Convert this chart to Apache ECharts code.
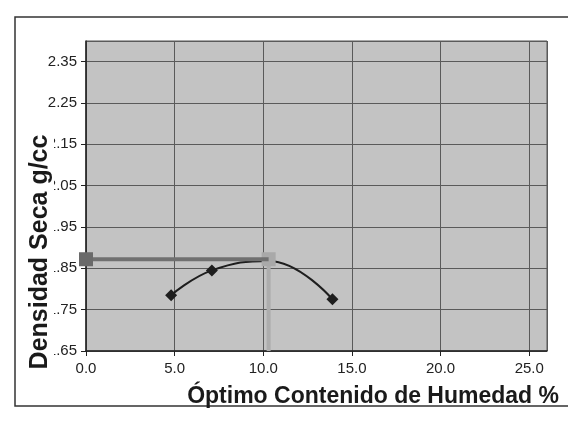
<!DOCTYPE html>
<html>
<head>
<meta charset="utf-8">
<style>
  html, body { margin: 0; padding: 0; background: #ffffff; }
  #chart { width: 568px; height: 421px; }
</style>
<script src="https://cdn.jsdelivr.net/npm/echarts@6/dist/echarts.min.js"></script>
</head>
<body>
<div id="chart"></div>
<script>
// Proctor compaction curve: moisture content (%) vs dry density (g/cc)
const moisture = [4.8, 7.1, 10.3, 13.9];
const dryDensity = [1.785, 1.845, 1.868, 1.775];

// Maximum dry density and optimum moisture content
const optMoisture = 10.3;
const maxDensity = 1.872;

const xTicks = [0, 5, 10, 15, 20, 25];
const yTicks = [1.65, 1.75, 1.85, 1.95, 2.05, 2.15, 2.25, 2.35];

const yTitle = 'Densidad Seca g/cc';
const xTitle = 'Óptimo Contenido de Humedad %';

const FONT = '"Liberation Sans", Arial, sans-serif';

const curveData = moisture.map((m, i) => [m, dryDensity[i]]);
const maxLine = [[0, maxDensity], [optMoisture, maxDensity]];
const dropLine = [[optMoisture, maxDensity], [optMoisture, yTicks[0]]];

const chart = echarts.init(document.getElementById('chart'), null, { renderer: 'canvas' });

chart.setOption({
  animation: false,
  backgroundColor: '#ffffff',
  grid: {
    left: 86, right: 21, top: 41, bottom: 70,
    show: true,
    backgroundColor: '#c3c3c3',
    borderColor: '#555555',
    borderWidth: 1
  },
  xAxis: {
    type: 'value',
    min: 0, max: 26, interval: 5,
    axisLine: { show: true, onZero: false, lineStyle: { color: '#222222', width: 1.5 } },
    axisTick: { show: true, inside: false, length: 5, lineStyle: { color: '#222222' } },
    axisLabel: {
      margin: 10, color: '#222222', fontFamily: FONT, fontSize: 15,
      showMaxLabel: false,
      formatter: v => (xTicks.indexOf(v) >= 0 ? v.toFixed(1) : '')
    },
    splitLine: { show: true, lineStyle: { color: '#5a5a5a', width: 1 } }
  },
  yAxis: {
    type: 'value',
    min: yTicks[0], max: 2.40, interval: 0.1,
    axisLine: { show: true, onZero: false, lineStyle: { color: '#222222', width: 1.5 } },
    axisTick: { show: true, inside: false, length: 5, lineStyle: { color: '#222222' } },
    axisLabel: {
      margin: 9, color: '#222222', fontFamily: FONT, fontSize: 15,
      showMaxLabel: false,
      formatter: v => v.toFixed(2)
    },
    splitLine: { show: true, lineStyle: { color: '#5a5a5a', width: 1 } }
  },
  series: [
    {
      name: 'Curva de compactación',
      type: 'line',
      data: curveData,
      smooth: 0.45,
      clip: false,
      symbol: 'diamond',
      symbolSize: 12,
      lineStyle: { color: '#1e1e1e', width: 2 },
      itemStyle: { color: '#1e1e1e' },
      z: 3
    },
    {
      name: 'Caída',
      type: 'line',
      data: dropLine,
      clip: false,
      symbol: (v, p) => (p.dataIndex === 0 ? 'rect' : 'none'),
      symbolSize: 14,
      lineStyle: { color: '#adadad', width: 4 },
      itemStyle: { color: '#a9a9a9' },
      z: 4
    },
    {
      name: 'Densidad máxima',
      type: 'line',
      data: maxLine,
      clip: false,
      symbol: (v, p) => (p.dataIndex === 0 ? 'rect' : 'none'),
      symbolSize: 14,
      lineStyle: { color: '#707070', width: 4 },
      itemStyle: { color: '#6a6a6a' },
      z: 5
    }
  ],
  graphic: [
    {
      type: 'rect',
      shape: { x: 15, y: 17, width: 600, height: 389 },
      style: { fill: 'none', stroke: '#333333', lineWidth: 1.5 },
      z: 1
    },
    {
      type: 'text',
      x: 40, y: 252,
      rotation: Math.PI / 2,
      style: {
        text: yTitle,
        font: 'bold 25px ' + FONT,
        fill: '#1a1a1a',
        textAlign: 'center',
        textVerticalAlign: 'middle',
        backgroundColor: '#ffffff',
        padding: [0, 0, 3, 0]
      },
      z: 100
    },
    {
      type: 'text',
      x: 559, y: 397,
      style: {
        text: xTitle,
        font: 'bold 23px ' + FONT,
        fill: '#1a1a1a',
        textAlign: 'right',
        textVerticalAlign: 'middle'
      },
      z: 100
    }
  ]
});
</script>
</body>
</html>
